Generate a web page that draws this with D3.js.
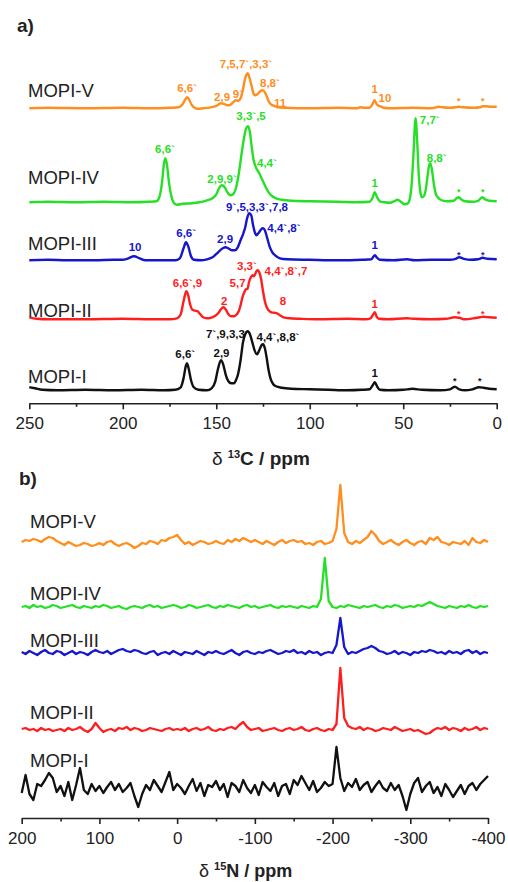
<!DOCTYPE html>
<html><head><meta charset="utf-8">
<script src="https://cdn.jsdelivr.net/npm/d3@7"></script>
<style>
body{margin:0;background:#fff;}
svg{display:block;font-family:Arial,"Liberation Sans",Helvetica,sans-serif;}
</style></head><body>
<svg id="chart" width="508" height="882"></svg>
<script>
// ---------------- DATA ----------------
const seriesNames = ["MOPI-I","MOPI-II","MOPI-III","MOPI-IV","MOPI-V"];
const seriesColors = ["#111111","#ff1e1e","#1616cc","#26e026","#ff8e1e"];

const carbonTicks = [250,200,150,100,50,0];
const carbonMinorTicks = [225,175,125,75,25];
const nitrogenTicks = [200,100,0,-100,-200,-300,-400];
const nitrogenMinorTicks = [150,50,-50,-150,-250,-350];

// vertical stacking offsets of each trace (intensity units)
const carbonOffsets = [13,84,143,201,295];
const nitrogenOffsets = [30,88,165,211,275];

// 13C spectra: [ppm, intensity]
const carbonI = [[250,3],[247,2],[243,0.5],[235,0],[220,0.5],[205,0],[190,0.5],[178,0],[172,0.5],[169,3],[167.5,12],[166.2,25],[165.7,27],[164.8,22],[163.5,10],[162,3],[159.5,0.5],[155,0],[152.5,2],[150.5,9],[149,22],[147.5,30],[146.3,26],[145,16],[143.5,9],[142,7],[140.5,7],[139.5,10],[138.5,15],[137,30],[135.7,48],[134.5,56],[133.1,59],[132,56],[130.7,48],[129.5,40],[128.2,36],[127,40],[125.8,45],[125,46],[124,42],[123,32],[122,20],[121,12],[119.5,6],[118,4],[115,2.5],[110,1.5],[100,1],[90,0.5],[80,0],[72,0.5],[68,1],[66.3,5],[65.2,8],[64,4],[62.5,0.5],[58,0],[50,0.5],[45,1.5],[40,0.5],[30,0],[25,1],[22.4,3.5],[20,1],[17,0],[13,1],[9.5,3],[7,2.5],[4,1.5],[0,1]];
const carbonII = [[250,2],[246,0.5],[240,0],[220,0],[200,0.5],[185,0],[175,0],[171,1],[169,5],[167.5,18],[166,28],[165,24],[164,15],[163,10],[162,9],[161,8.5],[160,8],[158.5,5],[157,2],[155,1],[153,1.5],[151,3],[149,6],[147.5,10],[146.3,12],[145,10],[143.5,5],[142,3],[140.5,3],[139,5],[138,8],[137,14],[136,22],[135,27],[134.1,30],[133.3,30.5],[132.5,37],[131.5,42],[130.5,44],[130,43],[129.2,45],[128.5,48],[127.7,49],[127,47],[126,40],[125,28],[124,18],[123,12],[122,9],[120.5,7],[119,6.5],[117.5,6],[116,4],[114,2],[111,1],[105,0.5],[95,0],[80,0.5],[70,0],[67.5,1],[66,5],[65.2,7],[64.3,3],[63,0.5],[58,0],[48,1],[44,0.5],[35,0],[27,0.5],[22.5,2],[20,1.5],[17,0],[12,1],[9,2],[7,2.5],[4,2],[0,1.5]];
const carbonIII = [[250,0],[240,0.5],[230,0],[215,0],[205,0.5],[200,0.5],[197,2],[194,4],[191,2],[188,0],[180,0],[172,0],[169.5,2],[167.5,12],[166.2,18],[165,14],[163.5,4],[162,0.5],[158,0],[155,1],[152,3],[149,8],[146.5,12],[145,13],[143.5,12],[141.5,10],[140,10],[138.5,13],[137,20],[135.5,27],[134.5,33],[133.5,42],[132.3,47],[131.3,45],[130.3,35],[129.2,27],[128.5,25],[127.5,27],[126,31],[125,32],[124,30],[123,24],[121.5,14],[120,8],[118.5,5],[116,2],[112,1],[100,0.5],[85,0],[72,0.5],[67,1],[65.8,4],[65.1,5],[64.2,3],[62.5,0.5],[55,0],[48,1],[44,0],[35,0.5],[25,0.5],[22,1.5],[20,3],[17.5,1.5],[14,0.5],[10,1],[7.5,2.5],[5,1.5],[0,1]];
const carbonIV = [[250,0],[240,0.5],[225,0],[210,0.5],[195,0],[186,0.5],[182,1],[180.5,5],[179,20],[178,38],[177.3,44],[176.4,38],[175.3,20],[174,6],[172.5,-1],[171,-2.5],[168,-1.5],[163,-1],[159,0],[155,2],[152,4],[150,8],[148.5,14],[147,17],[145.5,15],[144,10],[142.5,7],[141,8],[139.5,14],[138,28],[136.5,48],[135,66],[134,74],[133,76],[132,70],[131,55],[130,42],[129,36],[128,32],[127,29],[126,25],[125,21],[123.5,15],[122,10],[120,6],[118,4],[115,2.5],[110,1.5],[100,1],[85,0.5],[75,0],[68,0.5],[66.5,4],[65.2,10],[64,5],[62.5,1],[60,0],[57,-0.5],[55,1],[53,2.5],[51,0],[49,-2],[47.5,-1],[46.3,5],[45.5,18],[44.6,45],[43.4,84],[42.5,60],[41.7,28],[40.8,10],[40,5],[39,6],[38,12],[37,26],[36,38],[35.5,39],[34.6,32],[33.6,18],[32.5,8],[31.5,5],[30,2.5],[27,1],[23,1.5],[21.5,4],[20.3,5],[19,3],[17,1],[13,0.5],[10,1.5],[8.5,4],[7.5,5],[6.3,3],[4,1.5],[0,1]];
const carbonV = [[250,0],[240,0.5],[220,0],[200,0.5],[185,0],[175,0.5],[170,1],[168,4],[166.5,9],[165.6,11],[164.6,9],[163.3,4],[162,1],[160,-0.5],[157,0],[153,1],[150,2.5],[147.5,5],[146,4.5],[144,3],[142.5,3.5],[141,6],[139.5,8],[138.2,7.5],[137,10],[135.8,18],[134.8,28],[134,33],[133.2,35],[132.3,31],[131.3,24],[130.3,16],[129.3,13],[128,14],[126.5,17],[125.3,18],[124,16],[123,12],[122,7],[120.5,3.5],[119,2.5],[117,1],[113,0.5],[100,0],[85,0.5],[75,0],[73,1],[71,0.5],[68,0.5],[66.5,4],[65.3,8],[64.2,4],[63,2.5],[62,2],[60.5,0.5],[57,0],[45,0.5],[35,0],[31,1.5],[29,1],[25,0.5],[22,1],[20.5,1.5],[18,1],[12,0.5],[9,1],[7.5,2],[6,2],[3,1.5],[0,1.5]];
const carbonSpectra = [carbonI,carbonII,carbonIII,carbonIV,carbonV];

// 15N spectra: intensities sampled every 5 ppm from 200 to -400 ppm
const nitrogenPpm = d3.range(200,-400.5,-5);
const nitrogenI = [-5,13,-6,-12,4,2,8,15,10,-4, 2,-8,6,-12,3,20,-2,-6,4,-3, 2,-5,1,6,-2,4,-4,0,5,-8, -19,-6,3,-2,8,2,-4,6,16,-2, 4,0,-6,2,9,-3,5,-8,3,1, 7,-2,4,-9,5,2,-4,8,0,-5, 3,-7,6,1,-3,5,-8,2,4,-6, 8,3,12,5,-2,7,-4,0,6,2, 4,41,10,-3,5,1,9,-2,3,6, -4,2,7,0,-3,5,-2,3,-8,-22, -6,5,10,-4,2,6,-5,1,-8,4, -2,-9,-3,3,-6,2,5,-2,4,8, 12];
const nitrogenII = [1,2,0,1,-1,2,0,1,-1,0, 1,-1,2,0,1,3,0,-2,1,7, 2,-2,0,1,-1,2,1,3,0,2, 1,-1,0,2,1,0,-1,1,2,0, 1,0,2,-1,1,2,0,1,3,0, -1,1,0,2,3,1,5,8,3,0, 1,2,-1,0,1,2,0,-1,1,2, 0,1,3,0,-1,1,2,0,-1,1, 0,6,62,12,4,2,1,3,0,2, 1,-1,0,2,1,0,3,1,-1,0, 1,-1,0,-2,-4,-3,0,2,1,3, 0,2,1,-1,2,0,1,3,0,2, 1];
const nitrogenIII = [1,-1,2,0,-2,1,3,0,-1,2, 1,-2,0,2,-1,1,0,-2,1,3, 1,0,2,-1,1,3,4,2,1,3, 2,0,-1,1,2,-2,0,1,-1,2, 0,-2,1,0,-1,2,0,-2,1,0, 2,0,-1,1,3,0,-2,1,2,0, -1,1,0,2,3,1,-1,0,2,1, 3,0,1,-1,2,0,1,-2,0,1, 0,8,35,6,-1,1,0,2,4,5, 7,5,2,1,-1,0,2,-1,1,0, -2,1,0,2,1,3,2,0,1,-1, 2,0,1,-1,2,3,0,2,-1,1, 0];
const nitrogenIV = [0,1,-1,2,0,1,-1,0,2,1, -1,0,1,2,0,-1,1,0,-1,1, 0,2,1,-1,0,1,-1,-2,0,1, 0,-1,1,2,0,1,-1,0,1,2, 1,-1,0,2,1,-1,0,1,2,0, -1,1,0,2,1,0,-1,1,2,0, 1,-1,0,1,2,0,-1,1,0,1, 0,-1,1,0,-1,1,0,8,49,6, 0,-1,1,0,2,1,0,-1,1,0, 1,2,0,-1,1,0,2,1,-1,0, 1,0,2,1,3,5,3,1,0,-1, 1,0,-1,1,0,2,0,-1,1,0, 1];
const nitrogenV = [1,3,2,4,3,1,4,6,5,2, 0,-2,1,-1,-3,-2,0,-1,-3,-2, 0,-2,1,2,-1,-3,-1,0,-2,-5, -3,0,-1,2,1,-1,3,2,5,6, 8,3,-1,1,-2,0,2,1,-1,0, 2,0,-1,3,1,4,2,5,3,1, 3,1,-1,2,0,-2,1,3,0,2, 3,1,2,-1,0,-2,1,2,-1,0, 2,14,58,10,1,-1,2,0,3,6, 12,8,2,-1,1,3,0,-2,1,3, 0,-2,1,2,-1,5,3,6,1,0, -2,1,0,-1,2,-2,5,1,0,3, 1];
const nitrogenSpectra = [nitrogenI,nitrogenII,nitrogenIII,nitrogenIV,nitrogenV];

// peak assignments: [series index, text, ppm, intensity above trace baseline]
const carbonLabels = [
  [4,"6,6`",165.6,16],[4,"2,9",146.9,7],[4,"9`",138.4,10],[4,"7,5,7`,3,3`",134.1,40],[4,"8,8`",121.3,21],[4,"11",115.9,1],[4,"1",65.2,15],[4,"10",59.8,6],[4,"*",20.3,4],[4,"*",7.5,4],
  [3,"6,6`",177.4,49],[3,"2,9,9`",146.9,19],[3,"3,3`,5",131.4,82],[3,"4,4`",122.9,35],[3,"1",65.2,15],[3,"7,7`",35.8,78],[3,"8,8`",32.1,40],[3,"*",20.3,7],[3,"*",7.5,7],
  [2,"10",193.4,9],[2,"6,6`",166.1,23],[2,"2,9",145.3,17],[2,"9`,5,3,3`,7,8",128.2,49],[2,"4,4`,8`",113.8,28],[2,"1",65.2,11],[2,"*",20.3,2],[2,"*",7.5,2],
  [1,"6,6`,9",165.4,32],[1,"2",145.8,14],[1,"5,7",138.6,32],[1,"3,3`",133.6,49],[1,"4,4`,8`,7",112.7,44],[1,"8",114.3,14],[1,"1",65.2,11],[1,"*",20.3,2],[1,"*",7.5,2],
  [0,"6,6`",166.6,32],[0,"2,9",147.2,33],[0,"7`,9,3,3",145.1,52],[0,"4,4`,8,8`",117.0,49],[0,"1",65.2,13],[0,"*",22.4,6],[0,"*",9.1,6]
];

// name-label lift above each trace baseline (intensity units)
const carbonNameLift = [7,2,10,18,11];
const nitrogenNameLift = [21,11,6,7,15];

// ---------------- DRAW ----------------
const svg = d3.select("#chart");
const ink = "#222";

// ===== panel a =====
const xA = d3.scaleLinear().domain([250,0]).range([29.3,496.7]);
const yA = d3.scaleLinear().domain([0,400]).range([403.3,3.3]);

svg.append("text").attr("x",17).attr("y",32).attr("font-size",19).attr("font-weight","bold").attr("fill",ink).text("a)");

carbonSpectra.forEach((s,i)=>{
  const off = carbonOffsets[i];
  const line = d3.line().x(d=>xA(d[0])).y(d=>yA(d[1]+off)).curve(d3.curveMonotoneX);
  svg.append("path").attr("d",line(s)).attr("fill","none").attr("stroke",seriesColors[i])
     .attr("stroke-width",2.4).attr("stroke-linejoin","round");
  svg.append("text").attr("x",28).attr("y",yA(off+carbonNameLift[i])).attr("font-size",18.5)
     .attr("fill",ink).text(seriesNames[i]);
});

svg.append("g").selectAll("text").data(carbonLabels).join("text")
  .attr("x",d=>xA(d[2])).attr("y",d=>yA(carbonOffsets[d[0]]+d[3]))
  .attr("text-anchor","middle").attr("font-weight","bold")
  .attr("font-size",d=>d[1]==="*"?9:11.5).attr("fill",d=>seriesColors[d[0]]).text(d=>d[1]);

function styleAxis(g){
  g.selectAll("path.domain").attr("stroke",ink).attr("stroke-width",1.6);
  g.selectAll(".tick line").attr("stroke",ink).attr("stroke-width",1.6);
  g.selectAll(".tick text").attr("font-size",17).attr("fill",ink).attr("font-family","Arial,'Liberation Sans',sans-serif");
}
const axA = svg.append("g").attr("transform","translate(0,403.3)")
  .call(d3.axisBottom(xA).tickValues(carbonTicks).tickSize(6).tickSizeOuter(0).tickPadding(7.4).tickFormat(d=>String(d)));
styleAxis(axA);
const axAm = svg.append("g").attr("transform","translate(0,403.3)")
  .call(d3.axisBottom(xA).tickValues(carbonMinorTicks).tickSize(3.5).tickSizeOuter(0).tickFormat(""));
styleAxis(axAm); axAm.select("path.domain").remove();

const tA = svg.append("text").attr("x",212).attr("y",465).attr("fill",ink).attr("font-size",19);
tA.append("tspan").text("δ ");
tA.append("tspan").attr("font-size",11).attr("font-weight","bold").attr("dy",-7).text("13");
tA.append("tspan").attr("font-weight","bold").attr("dy",7).text("C / ppm");

// ===== panel b =====
const xB = d3.scaleLinear().domain([200,-400]).range([21.7,488]);
const yB = d3.scaleLinear().domain([0,400]).range([818,418]);

svg.append("text").attr("x",19).attr("y",485).attr("font-size",19).attr("font-weight","bold").attr("fill",ink).text("b)");

nitrogenSpectra.forEach((s,i)=>{
  const off = nitrogenOffsets[i];
  const line = d3.line().x((d,j)=>xB(nitrogenPpm[j])).y(d=>yB(d+off)).curve(d3.curveLinear);
  svg.append("path").attr("d",line(s)).attr("fill","none").attr("stroke",seriesColors[i])
     .attr("stroke-width",2.3).attr("stroke-linejoin","round");
  svg.append("text").attr("x",30).attr("y",yB(off+nitrogenNameLift[i])).attr("font-size",18.5)
     .attr("fill",ink).text(seriesNames[i]);
});

const axB = svg.append("g").attr("transform","translate(0,818)")
  .call(d3.axisBottom(xB).tickValues(nitrogenTicks).tickSize(6).tickSizeOuter(0).tickPadding(8).tickFormat(d=>String(d)));
styleAxis(axB);
const axBm = svg.append("g").attr("transform","translate(0,818)")
  .call(d3.axisBottom(xB).tickValues(nitrogenMinorTicks).tickSize(3.5).tickSizeOuter(0).tickFormat(""));
styleAxis(axBm); axBm.select("path.domain").remove();

const tB = svg.append("text").attr("x",199).attr("y",877).attr("fill",ink).attr("font-size",18);
tB.append("tspan").text("δ ");
tB.append("tspan").attr("font-size",11).attr("font-weight","bold").attr("dy",-7).text("15");
tB.append("tspan").attr("font-weight","bold").attr("dy",7).text("N / ppm");
</script></body></html>
